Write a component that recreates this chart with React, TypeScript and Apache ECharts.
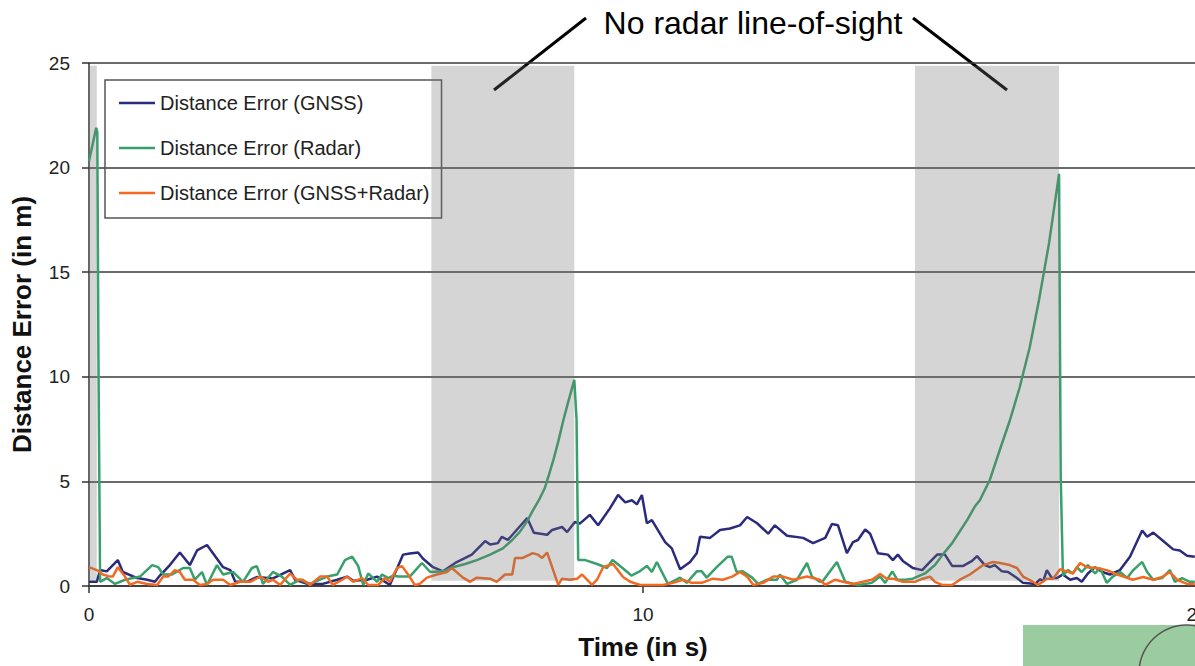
import React, { useEffect, useRef } from "react";
import * as echarts from "echarts";

// ---- Data (time in s, distance error in m) ----
const GNSS_T = [0, 0.14, 0.2, 0.32, 0.52, 0.61, 0.87, 1.05, 1.19, 1.28, 1.46, 1.64, 1.82, 1.95, 2.13, 2.31, 2.42, 2.55, 2.64, 2.85, 3.03, 3.32, 3.63, 3.72, 3.94, 4.22, 4.48, 4.66, 4.77, 5.02, 5.2, 5.43, 5.67, 5.79, 5.94, 6.03, 6.21, 6.39, 6.61, 6.91, 7.15, 7.24, 7.38, 7.45, 7.56, 7.91, 8.03, 8.27, 8.36, 8.54, 8.63, 8.77, 8.86, 9.04, 9.19, 9.4, 9.55, 9.68, 9.8, 9.89, 9.98, 10.07, 10.16, 10.4, 10.52, 10.67, 10.85, 10.97, 11.03, 11.21, 11.39, 11.57, 11.75, 11.88, 12.06, 12.26, 12.38, 12.6, 12.89, 13.07, 13.29, 13.41, 13.52, 13.68, 13.79, 13.88, 14.01, 14.1, 14.24, 14.42, 14.51, 14.6, 14.69, 14.87, 15.04, 15.18, 15.31, 15.45, 15.58, 15.78, 15.94, 16.03, 16.17, 16.26, 16.35, 16.48, 16.59, 16.75, 16.86, 17.08, 17.17, 17.22, 17.29, 17.38, 17.47, 17.58, 17.71, 17.83, 17.92, 18.03, 18.16, 18.29, 18.43, 18.61, 18.79, 19.01, 19.1, 19.21, 19.39, 19.57, 19.69, 19.82, 19.96];
const GNSS_V = [0.2, 0.2, 0.76, 0.7, 1.24, 0.67, 0.38, 0.3, 0.2, 0.5, 1.0, 1.6, 1.0, 1.7, 1.96, 1.3, 0.9, 0.76, 0.2, 0.2, 0.43, 0.36, 0.76, 0.3, 0.1, 0.1, 0.3, 0.45, 0.25, 0.3, 0.45, 0.05, 1.5, 1.55, 1.6, 1.3, 0.9, 0.7, 1.1, 1.5, 2.15, 1.98, 2.05, 2.35, 2.2, 3.25, 2.55, 2.45, 2.68, 2.82, 2.58, 3.06, 2.98, 3.4, 2.9, 3.7, 4.35, 4.0, 4.1, 3.9, 4.35, 3.0, 3.15, 2.1, 1.8, 0.8, 1.15, 1.57, 2.35, 2.3, 2.68, 2.75, 2.9, 3.3, 3.0, 2.5, 2.9, 2.4, 2.3, 2.05, 2.3, 2.96, 2.9, 1.57, 2.1, 2.2, 2.7, 2.5, 1.57, 1.5, 1.24, 1.5, 1.2, 0.86, 0.76, 1.15, 1.5, 1.5, 0.96, 0.96, 1.2, 1.43, 1.0, 0.9, 1.0, 0.7, 0.67, 0.38, 0.15, 0.1, 0.33, 0.2, 0.76, 0.38, 0.38, 0.55, 0.3, 0.38, 0.2, 0.6, 0.9, 0.67, 0.55, 0.76, 1.4, 2.65, 2.35, 2.55, 2.15, 1.75, 1.7, 1.45, 1.4];

const RADAR_T = [0, 0.13, 0.15, 0.16, 0.17, 0.2, 0.32, 0.47, 0.65, 0.92, 1.14, 1.25, 1.34, 1.5, 1.7, 1.82, 1.91, 2.04, 2.13, 2.31, 2.42, 2.6, 2.78, 2.94, 3.03, 3.14, 3.32, 3.48, 3.63, 3.81, 3.99, 4.3, 4.48, 4.62, 4.75, 4.86, 4.95, 5.04, 5.2, 5.29, 5.4, 5.49, 5.58, 5.79, 6.01, 6.16, 6.39, 6.57, 6.79, 7.0, 7.24, 7.47, 7.64, 7.78, 7.91, 8.01, 8.12, 8.23, 8.3, 8.38, 8.47, 8.56, 8.65, 8.76, 8.8, 8.83, 8.96, 9.17, 9.35, 9.45, 9.63, 9.79, 9.94, 10.07, 10.16, 10.25, 10.45, 10.67, 10.79, 10.97, 11.06, 11.15, 11.33, 11.53, 11.6, 11.69, 11.8, 11.97, 12.08, 12.24, 12.42, 12.47, 12.6, 12.78, 12.96, 13.05, 13.19, 13.25, 13.5, 13.65, 13.88, 14.13, 14.28, 14.37, 14.5, 14.59, 14.73, 14.87, 15.09, 15.27, 15.41, 15.58, 15.69, 15.85, 15.99, 16.08, 16.26, 16.44, 16.62, 16.8, 16.98, 17.15, 17.33, 17.51, 17.54, 17.58, 17.67, 17.76, 17.83, 17.92, 18.03, 18.16, 18.25, 18.37, 18.48, 18.61, 18.74, 18.85, 19.01, 19.1, 19.21, 19.37, 19.51, 19.6, 19.73, 19.87, 19.96];
const RADAR_V = [20.3, 21.9, 21.7, 16.5, 11.0, 0.2, 0.38, 0.1, 0.3, 0.45, 1.0, 0.9, 0.55, 0.55, 0.86, 0.86, 0.3, 0.67, 0.05, 1.0, 0.55, 0.67, 0.2, 0.86, 0.95, 0.1, 0.67, 0.45, 0.05, 0.3, 0.1, 0.45, 0.55, 1.24, 1.4, 0.95, 0.05, 0.6, 0.2, 0.55, 0.38, 0.5, 0.45, 0.45, 1.1, 0.67, 0.7, 0.9, 1.05, 1.24, 1.5, 1.8, 2.2, 2.6, 3.1, 3.6, 4.1, 4.7, 5.3, 6.0, 6.9, 7.9, 8.8, 9.85, 8.0, 1.24, 1.24, 1.05, 0.86, 1.24, 0.86, 0.5, 0.7, 0.96, 0.67, 1.15, 0.1, 0.4, 0.15, 0.7, 0.7, 0.4, 0.9, 1.4, 1.4, 0.67, 0.7, 0.4, 0.1, 0.3, 0.3, 0.55, 0.1, 0.3, 1.1, 0.45, 0.2, 0.25, 1.15, 0.2, 0.05, 0.15, 0.45, 0.15, 0.7, 0.3, 0.3, 0.35, 0.6, 1.0, 1.5, 2.05, 2.5, 3.15, 3.8, 4.1, 5.07, 6.5, 7.9, 9.5, 11.4, 13.7, 16.4, 19.7, 5.2, 0.5, 0.76, 0.6, 0.9, 0.67, 1.0, 0.6, 0.86, 0.15, 0.45, 0.67, 0.38, 0.76, 1.15, 0.67, 0.3, 0.38, 0.76, 0.2, 0.38, 0.2, 0.2];

const FUSION_T = [0, 0.14, 0.25, 0.38, 0.43, 0.52, 0.65, 0.74, 0.87, 1.05, 1.23, 1.34, 1.43, 1.55, 1.64, 1.73, 1.88, 2.0, 2.13, 2.24, 2.42, 2.55, 2.73, 2.91, 3.09, 3.23, 3.32, 3.45, 3.63, 3.75, 3.86, 3.99, 4.17, 4.3, 4.4, 4.57, 4.66, 4.77, 4.93, 5.04, 5.22, 5.34, 5.43, 5.56, 5.65, 5.76, 5.88, 5.97, 6.1, 6.28, 6.46, 6.55, 6.75, 6.88, 7.0, 7.24, 7.36, 7.51, 7.64, 7.69, 7.83, 8.01, 8.1, 8.18, 8.27, 8.36, 8.47, 8.54, 8.68, 8.81, 8.9, 8.99, 9.08, 9.17, 9.28, 9.46, 9.64, 9.77, 9.95, 10.36, 10.54, 10.72, 10.88, 11.06, 11.26, 11.44, 11.61, 11.75, 11.88, 11.99, 12.17, 12.35, 12.53, 12.71, 12.96, 13.19, 13.29, 13.47, 13.61, 13.79, 13.97, 14.13, 14.28, 14.4, 14.51, 14.69, 14.91, 15.05, 15.18, 15.27, 15.4, 15.58, 15.72, 15.9, 16.14, 16.32, 16.44, 16.62, 16.75, 16.86, 17.04, 17.13, 17.29, 17.4, 17.53, 17.65, 17.76, 17.89, 18.01, 18.19, 18.37, 18.56, 18.7, 18.84, 19.03, 19.21, 19.37, 19.51, 19.64, 19.82, 19.96];
const FUSION_V = [0.9, 0.76, 0.55, 0.45, 0.45, 0.9, 0.45, 0.05, 0.2, 0.1, 0.05, 0.45, 0.45, 0.76, 0.67, 0.3, 0.3, 0.05, 0.1, 0.3, 0.3, 0.05, 0.2, 0.2, 0.45, 0.2, 0.3, 0.05, 0.6, 0.3, 0.3, 0.05, 0.45, 0.45, 0.05, 0.3, 0.45, 0.2, 0.38, 0.05, 0.05, 0.38, 0.2, 0.86, 0.95, 0.55, 0.05, 0.1, 0.4, 0.55, 0.67, 0.86, 0.4, 0.2, 0.4, 0.35, 0.2, 0.55, 0.55, 1.34, 1.34, 1.57, 1.5, 1.34, 1.6, 0.9, 0.05, 0.35, 0.3, 0.35, 0.55, 0.3, 0.05, 0.3, 0.9, 1.05, 0.43, 0.2, 0.05, 0.05, 0.15, 0.3, 0.15, 0.15, 0.35, 0.3, 0.45, 0.67, 0.45, 0.05, 0.15, 0.45, 0.45, 0.3, 0.45, 0.3, 0.05, 0.3, 0.2, 0.1, 0.2, 0.3, 0.57, 0.35, 0.35, 0.2, 0.2, 0.35, 0.45, 0.2, 0.05, 0.05, 0.3, 0.55, 1.0, 1.15, 1.1, 1.0, 0.86, 0.45, 0.2, 0.05, 0.35, 0.35, 0.8, 0.7, 0.6, 1.1, 0.9, 0.86, 0.76, 0.55, 0.43, 0.3, 0.43, 0.3, 0.43, 0.67, 0.3, 0.1, 0.1];

// "No radar line-of-sight" periods (start, end in s)
const BAND_START = [0, 6.18, 14.91];
const BAND_END = [0.14, 8.76, 17.51];
const BAND_LOW = 0.25;
const BAND_HIGH = 24.87;

const SERIES_NAMES = ["Distance Error (GNSS)", "Distance Error (Radar)", "Distance Error (GNSS+Radar)"];
const X_TICKS = [0, 10, 20];
const Y_TICKS = [0, 5, 10, 15, 20, 25];

const FONT = 'Arial, "Liberation Sans", sans-serif';

const pairs = (t: number[], v: number[]) => t.map((x, i) => [x, v[i]]);

export default function App() {
  const ref = useRef<HTMLDivElement>(null);
  useEffect(() => {
    if (!ref.current) return;
    const chart = echarts.init(ref.current, undefined, { renderer: "svg" });
    const lineSeries = (name: string, data: number[][], color: string) => ({
      name,
      type: "line",
      data,
      symbol: "none",
      z: 3,
      lineStyle: { color, width: 2.5 },
      itemStyle: { color },
    });
    chart.setOption({
      animation: false,
      backgroundColor: "#ffffff",
      textStyle: { fontFamily: FONT },
      grid: { left: 89, right: -2, top: 63, bottom: 80, containLabel: false, outerBoundsMode: "none" },
      legend: {
        data: SERIES_NAMES,
        orient: "vertical",
        left: 105,
        top: 80,
        icon: "rect",
        itemWidth: 36,
        itemHeight: 2.5,
        itemGap: 25,
        padding: [13, 12, 15, 14],
        borderColor: "#555555",
        borderWidth: 1.5,
        textStyle: { fontSize: 20, color: "#222222", fontFamily: FONT },
      },
      xAxis: {
        type: "value",
        min: X_TICKS[0],
        max: X_TICKS[X_TICKS.length - 1],
        interval: 10,
        name: "Time (in s)",
        nameLocation: "middle",
        nameGap: 48,
        nameTextStyle: { fontSize: 26, fontWeight: "bold", color: "#111111", fontFamily: FONT },
        axisLine: { show: true, lineStyle: { color: "#333333", width: 1.5 } },
        axisTick: { show: true, length: 7, lineStyle: { color: "#333333", width: 1.5 } },
        axisLabel: { fontSize: 19, color: "#222222", margin: 19, fontFamily: FONT },
        splitLine: { show: false },
      },
      yAxis: {
        type: "value",
        min: Y_TICKS[0],
        max: Y_TICKS[Y_TICKS.length - 1],
        interval: 5,
        name: "Distance Error (in m)",
        nameLocation: "middle",
        nameGap: 54,
        nameTextStyle: { fontSize: 26, fontWeight: "bold", color: "#111111", fontFamily: FONT },
        axisLine: { show: true, lineStyle: { color: "#333333", width: 1.5 } },
        axisTick: { show: true, length: 7, lineStyle: { color: "#333333", width: 1.5 } },
        axisLabel: { fontSize: 19, color: "#222222", margin: 19, fontFamily: FONT },
        splitLine: { show: true, lineStyle: { color: "#3a3a3a", width: 1.5 } },
      },
      series: [
        lineSeries(SERIES_NAMES[0], pairs(GNSS_T, GNSS_V), "#2b2a7c"),
        lineSeries(SERIES_NAMES[1], pairs(RADAR_T, RADAR_V), "#38a06a"),
        lineSeries(SERIES_NAMES[2], pairs(FUSION_T, FUSION_V), "#f26a22"),
        {
          name: "bands",
          type: "line",
          data: [],
          z: 10,
          silent: true,
          markArea: {
            silent: true,
            z: 10,
            itemStyle: { color: "rgba(115,115,115,0.3)", borderWidth: 0 },
            data: BAND_START.map((s, i) => [
              { xAxis: s, yAxis: BAND_LOW },
              { xAxis: BAND_END[i], yAxis: BAND_HIGH },
            ]),
          },
        },
      ],
      graphic: [
        {
          type: "text",
          x: 753,
          y: 23,
          style: {
            text: "No radar line-of-sight",
            fontSize: 32,
            fontFamily: FONT,
            fill: "#000000",
            align: "center",
            verticalAlign: "middle",
          },
        },
        {
          type: "line",
          shape: { x1: 586, y1: 18, x2: 494, y2: 90 },
          style: { stroke: "#000000", lineWidth: 3 },
        },
        {
          type: "line",
          shape: { x1: 913, y1: 18, x2: 1007, y2: 90 },
          style: { stroke: "#000000", lineWidth: 3 },
        },
        {
          type: "rect",
          shape: { x: 1023, y: 625, width: 172, height: 41 },
          style: { fill: "#9bcc9f" },
        },
        {
          type: "circle",
          shape: { cx: 1187, cy: 673, r: 48 },
          style: { fill: "none", stroke: "#555555", lineWidth: 1.5 },
        },
      ],
    });
    return () => chart.dispose();
  }, []);
  return (
    <div
      ref={ref}
      style={{ position: "fixed", left: 0, top: 0, width: 1195, height: 666, background: "#fff" }}
    />
  );
}
